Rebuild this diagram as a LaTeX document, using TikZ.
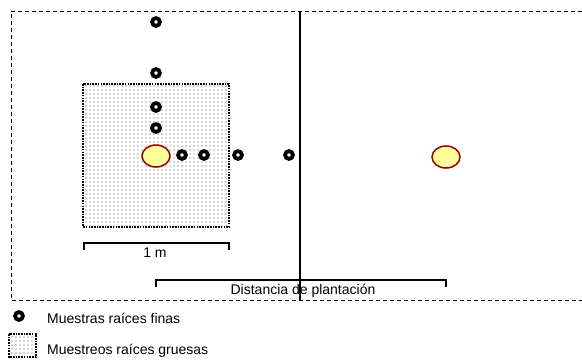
\documentclass[tikz,border=0pt]{standalone}
\usepackage{fontspec}
\setmainfont{Liberation Sans}
\usetikzlibrary{shapes.geometric}
\begin{document}
\begin{tikzpicture}[x=1pt,y=-1pt,
  ring/.style={circle,draw=black,fill=white,line width=3.8pt,minimum size=7.8pt,inner sep=0pt},
  tree/.style={ellipse,draw={rgb,255:red,150;green,0;blue,0},fill={rgb,255:red,255;green,255;blue,153},line width=1.5pt,minimum width=28pt,minimum height=22pt,inner sep=0pt},
  bracket/.style={line width=1.5pt},
  outer/.style={line width=1pt,dash pattern=on 4pt off 3pt},
  dotbox/.style={line width=2.5pt,dash pattern=on 1.6pt off 1.1pt},
  lbl/.style={font=\fontsize{14}{16}\selectfont,inner sep=0pt}
]
\useasboundingbox (0,0) rectangle (582,360);
% dotted square (coarse-root sampling)
\foreach \i in {0,...,35} {
  \foreach \j in {0,...,35} {
    \fill[black!70] (86+4*\i,86+4*\j) circle (0.6pt);
  }
}
\draw[dotbox] (83,84) rectangle (229,227);
% outer field
\draw[outer] (582,11) -- (11,11) -- (11,300) -- (582,300);
\draw[line width=1.2pt] (300,11) -- (300,300);
% trees
\node[tree] (t1) at (156,156) {};
\node[tree] (t2) at (446,157) {};
% fine-root samples
\node[ring] (s1) at (156,22) {};
\node[ring] (s2) at (156,73) {};
\node[ring] (s3) at (156,107) {};
\node[ring] (s4) at (156,128) {};
\node[ring] (s5) at (182,155) {};
\node[ring] (s6) at (204,155) {};
\node[ring] (s7) at (238,155) {};
\node[ring] (s8) at (289,155) {};
% 1 m bracket
\coordinate (ma) at (84,243);
\coordinate (mb) at (229,243);
\draw[bracket] ([yshift=-7pt]ma) -- (ma) -- (mb) -- ([yshift=-7pt]mb);
\node[lbl] (m1) at (155,253) {1 m};
% planting distance bracket
\coordinate (da) at (t1 |- 0,280);
\coordinate (db) at (t2 |- 0,280);
\draw[bracket] ([yshift=-7pt]da) -- (da) -- (db) -- ([yshift=-7pt]db);
\node[lbl] (dist) at (303,291) {Distancia de plantación};
% legend
\node[ring] (lr) at (19,316) {};
\node[lbl,anchor=west] (l1) at (47,318) {Muestras raíces finas};
\foreach \i in {0,...,5} {
  \foreach \j in {0,...,4} {
    \fill[black!70] (12+4*\i,337+4*\j) circle (0.55pt);
  }
}
\draw[dotbox,line width=1.8pt] (9,334) rectangle (36,357);
\node[lbl,anchor=west] (l2) at (47,351) {Muestreos raíces gruesas};
\end{tikzpicture}
\end{document}
